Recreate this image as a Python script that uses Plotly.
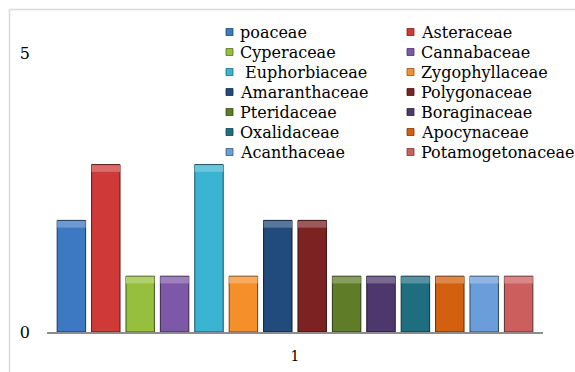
import plotly.graph_objects as go

# Plant families and number of species recorded in each
families = [
    "poaceae", "Asteraceae", "Cyperaceae", "Cannabaceae", "\u00a0Euphorbiaceae",
    "Zygophyllaceae", "Amaranthaceae", "Polygonaceae", "Pteridaceae",
    "Boraginaceae", "Oxalidaceae", "Apocynaceae", "Acanthaceae", "Potamogetonaceae",
]
counts = [2, 3, 1, 1, 3, 1, 2, 2, 1, 1, 1, 1, 1, 1]
category = ["1"]

colors = [
    "#3d78c2", "#cf3a38", "#96bf3d", "#7d57a8", "#3ab4d2", "#f58f2a", "#214a7d",
    "#7c2222", "#5f7d28", "#4d376d", "#1e6e80", "#d2600e", "#6b9ddb", "#cd5e5e",
]

W, H = 575, 372
ML, MR, MT, MB = 47, 32, 53, 40
PW, PH = W - ML - MR, H - MT - MB


def shade(hex_color, f):
    r, g, b = (int(hex_color[i:i + 2], 16) for i in (1, 3, 5))
    if f < 1:
        r, g, b = (int(c * f) for c in (r, g, b))
    else:
        t = f - 1
        r, g, b = (int(c + (255 - c) * t) for c in (r, g, b))
    return f"rgb({r},{g},{b})"


def px_x(px):
    return (px - ML) / PW


def px_y(py):
    return (H - MB - py) / PH


fig = go.Figure()

bevel = 0.12
for i, (name, val, col) in enumerate(zip(families, counts, colors)):
    fig.add_trace(go.Bar(
        x=category, y=[val], name=name, offsetgroup=str(i),
        marker=dict(color=col, line=dict(color=shade(col, 0.45), width=1)),
        showlegend=False,
    ))
    # lighter bevel band just under the top edge of each bar
    fig.add_trace(go.Bar(
        x=category, y=[bevel], base=[val - bevel - 0.01], offsetgroup=str(i),
        marker=dict(color=shade(col, 1.25), line=dict(width=0)),
        showlegend=False, hoverinfo="skip",
    ))

# chart-area frame: top and left edges
frame = dict(color="#d9d9d9", width=1.5)
shapes = [
    dict(type="line", xref="paper", yref="paper",
         x0=px_x(9.5), x1=px_x(W + 5), y0=px_y(9.5), y1=px_y(9.5), line=frame, layer="below"),
    dict(type="line", xref="paper", yref="paper",
         x0=px_x(9.5), x1=px_x(9.5), y0=px_y(9.5), y1=px_y(H + 5), line=frame, layer="below"),
]

# two-column legend, filled row by row
annotations = []
col_swatch = [226, 407]
col_text = [238, 419]
row0, row_step, sw = 32, 20, 7
for i, (name, col) in enumerate(zip(families, colors)):
    r, c = divmod(i, 2)
    yc = row0 + r * row_step
    shapes.append(dict(
        type="rect", xref="paper", yref="paper",
        x0=px_x(col_swatch[c]), x1=px_x(col_swatch[c] + sw),
        y0=px_y(yc + sw / 2), y1=px_y(yc - sw / 2),
        fillcolor=col, line=dict(color=shade(col, 0.6), width=0.8),
    ))
    annotations.append(dict(
        xref="paper", yref="paper", x=px_x(col_text[c]), y=px_y(yc + 0.5),
        xanchor="left", yanchor="middle", text=name, showarrow=False,
        font=dict(family="DejaVu Serif", size=16, color="#000000"),
    ))

fig.update_layout(
    width=W, height=H,
    margin=dict(l=ML, r=MR, t=MT, b=MB, pad=0),
    paper_bgcolor="white", plot_bgcolor="white",
    barmode="group", bargap=0.029, bargroupgap=0.173,
    shapes=shapes, annotations=annotations,
    xaxis=dict(
        automargin=False,
        showline=True, linecolor="#8c8c8c", linewidth=2, ticks="",
        showgrid=False, zeroline=False, ticklabelstandoff=10,
        tickfont=dict(family="DejaVu Serif", size=14, color="#000000"),
    ),
    yaxis=dict(
        automargin=False,
        range=[0, 5], tickvals=[0, 5], showgrid=False, zeroline=False,
        showline=False, ticks="", ticklabelstandoff=16,
        tickfont=dict(family="DejaVu Serif", size=16, color="#000000"),
    ),
)

fig.write_html("out.html")
